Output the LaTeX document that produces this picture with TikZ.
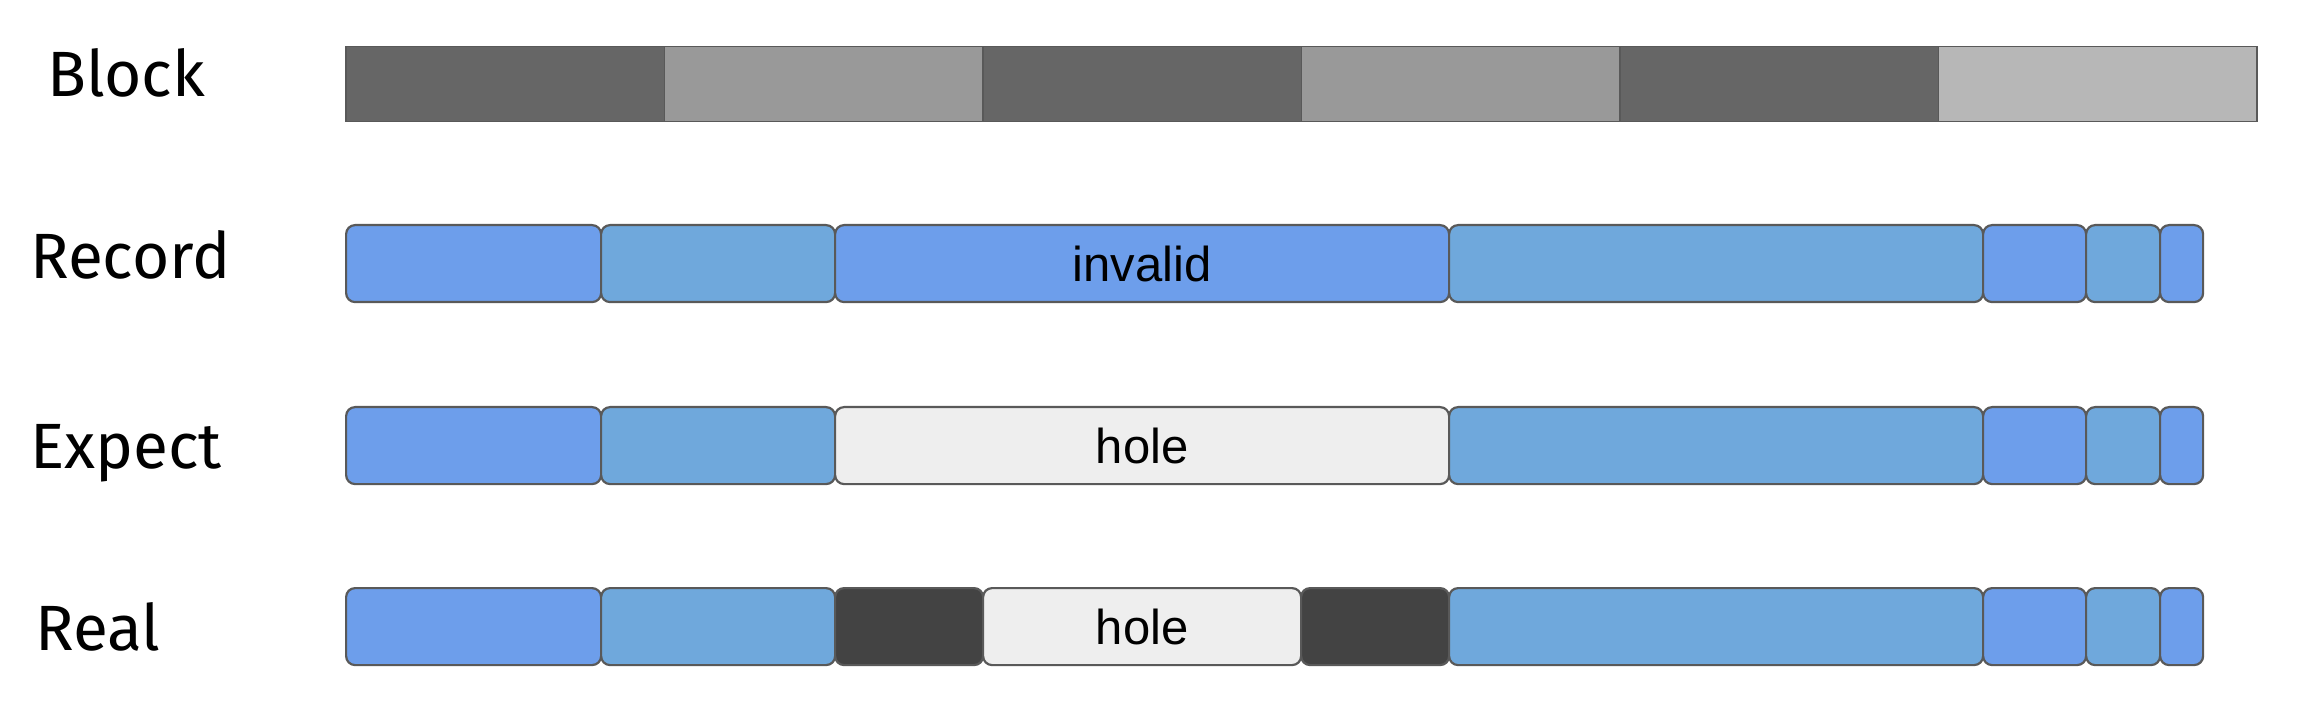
\documentclass[tikz,border=0pt]{standalone}
\usepackage{fontspec}
\newfontfamily\labelfont{Fira Sans}
\newfontfamily\boxfont{Liberation Sans}
\definecolor{bdark}{HTML}{666666}
\definecolor{bmid}{HTML}{999999}
\definecolor{blight}{HTML}{B7B7B7}
\definecolor{edgegray}{HTML}{595959}
\definecolor{dblue}{HTML}{6D9EEB}
\definecolor{lblue}{HTML}{6FA8DC}
\definecolor{holegray}{HTML}{EEEEEE}
\definecolor{darkseg}{HTML}{434343}
\tikzset{
  blockseg/.style={draw=edgegray, line width=1.5pt, inner sep=0pt, anchor=north west, minimum height=75pt},
  recseg/.style={draw=edgegray, line width=2.2pt, rounded corners=9pt, inner sep=0pt, anchor=north west, minimum height=77pt, font=\boxfont\fontsize{49}{55}\selectfont},
  rowlabel/.style={anchor=base west, inner sep=0pt, font=\labelfont\fontsize{64}{72}\selectfont},
}
\begin{document}
\begin{tikzpicture}[x=1pt,y=-1pt]
\useasboundingbox (0,0) rectangle (2322,708);
% labels
\node[rowlabel] (lblock) at (47,97) {Block};
\node[rowlabel] (lrecord) at (30,279) {Record};
\node[rowlabel] (lexpect) at (30,468) {Expect};
\node[rowlabel] (lreal) at (35,650) {Real};
% Block row
\node[blockseg, fill=bdark, minimum width=318.5pt] (blk1) at (345,46) {};
\node[blockseg, fill=bmid, minimum width=318.5pt] (blk2) at (663.5,46) {};
\node[blockseg, fill=bdark, minimum width=318.5pt] (blk3) at (982,46) {};
\node[blockseg, fill=bmid, minimum width=318.5pt] (blk4) at (1300.5,46) {};
\node[blockseg, fill=bdark, minimum width=318.5pt] (blk5) at (1619,46) {};
\node[blockseg, fill=blight, minimum width=318.5pt] (blk6) at (1937.5,46) {};
% Record row
\node[recseg, fill=dblue, minimum width=255pt] (rec1) at (345,224) {};
\node[recseg, fill=lblue, minimum width=234pt] (rec2) at (600,224) {};
\node[recseg, fill=dblue, minimum width=614pt] (rec3) at (834,224) {invalid};
\node[recseg, fill=lblue, minimum width=534pt] (rec4) at (1448,224) {};
\node[recseg, fill=dblue, minimum width=103pt] (rec5) at (1982,224) {};
\node[recseg, fill=lblue, minimum width=74pt] (rec6) at (2085,224) {};
\node[recseg, fill=dblue, minimum width=43pt] (rec7) at (2159,224) {};
% Expect row
\node[recseg, fill=dblue, minimum width=255pt] (exp1) at (345,406) {};
\node[recseg, fill=lblue, minimum width=234pt] (exp2) at (600,406) {};
\node[recseg, fill=holegray, minimum width=614pt] (exp3) at (834,406) {hole};
\node[recseg, fill=lblue, minimum width=534pt] (exp4) at (1448,406) {};
\node[recseg, fill=dblue, minimum width=103pt] (exp5) at (1982,406) {};
\node[recseg, fill=lblue, minimum width=74pt] (exp6) at (2085,406) {};
\node[recseg, fill=dblue, minimum width=43pt] (exp7) at (2159,406) {};
% Real row
\node[recseg, fill=dblue, minimum width=255pt] (real1) at (345,587) {};
\node[recseg, fill=lblue, minimum width=234pt] (real2) at (600,587) {};
\node[recseg, fill=darkseg, minimum width=148pt] (real3) at (834,587) {};
\node[recseg, fill=holegray, minimum width=318pt] (real4) at (982,587) {hole};
\node[recseg, fill=darkseg, minimum width=148pt] (real5) at (1300,587) {};
\node[recseg, fill=lblue, minimum width=534pt] (real6) at (1448,587) {};
\node[recseg, fill=dblue, minimum width=103pt] (real7) at (1982,587) {};
\node[recseg, fill=lblue, minimum width=74pt] (real8) at (2085,587) {};
\node[recseg, fill=dblue, minimum width=43pt] (real9) at (2159,587) {};
\end{tikzpicture}
\end{document}
